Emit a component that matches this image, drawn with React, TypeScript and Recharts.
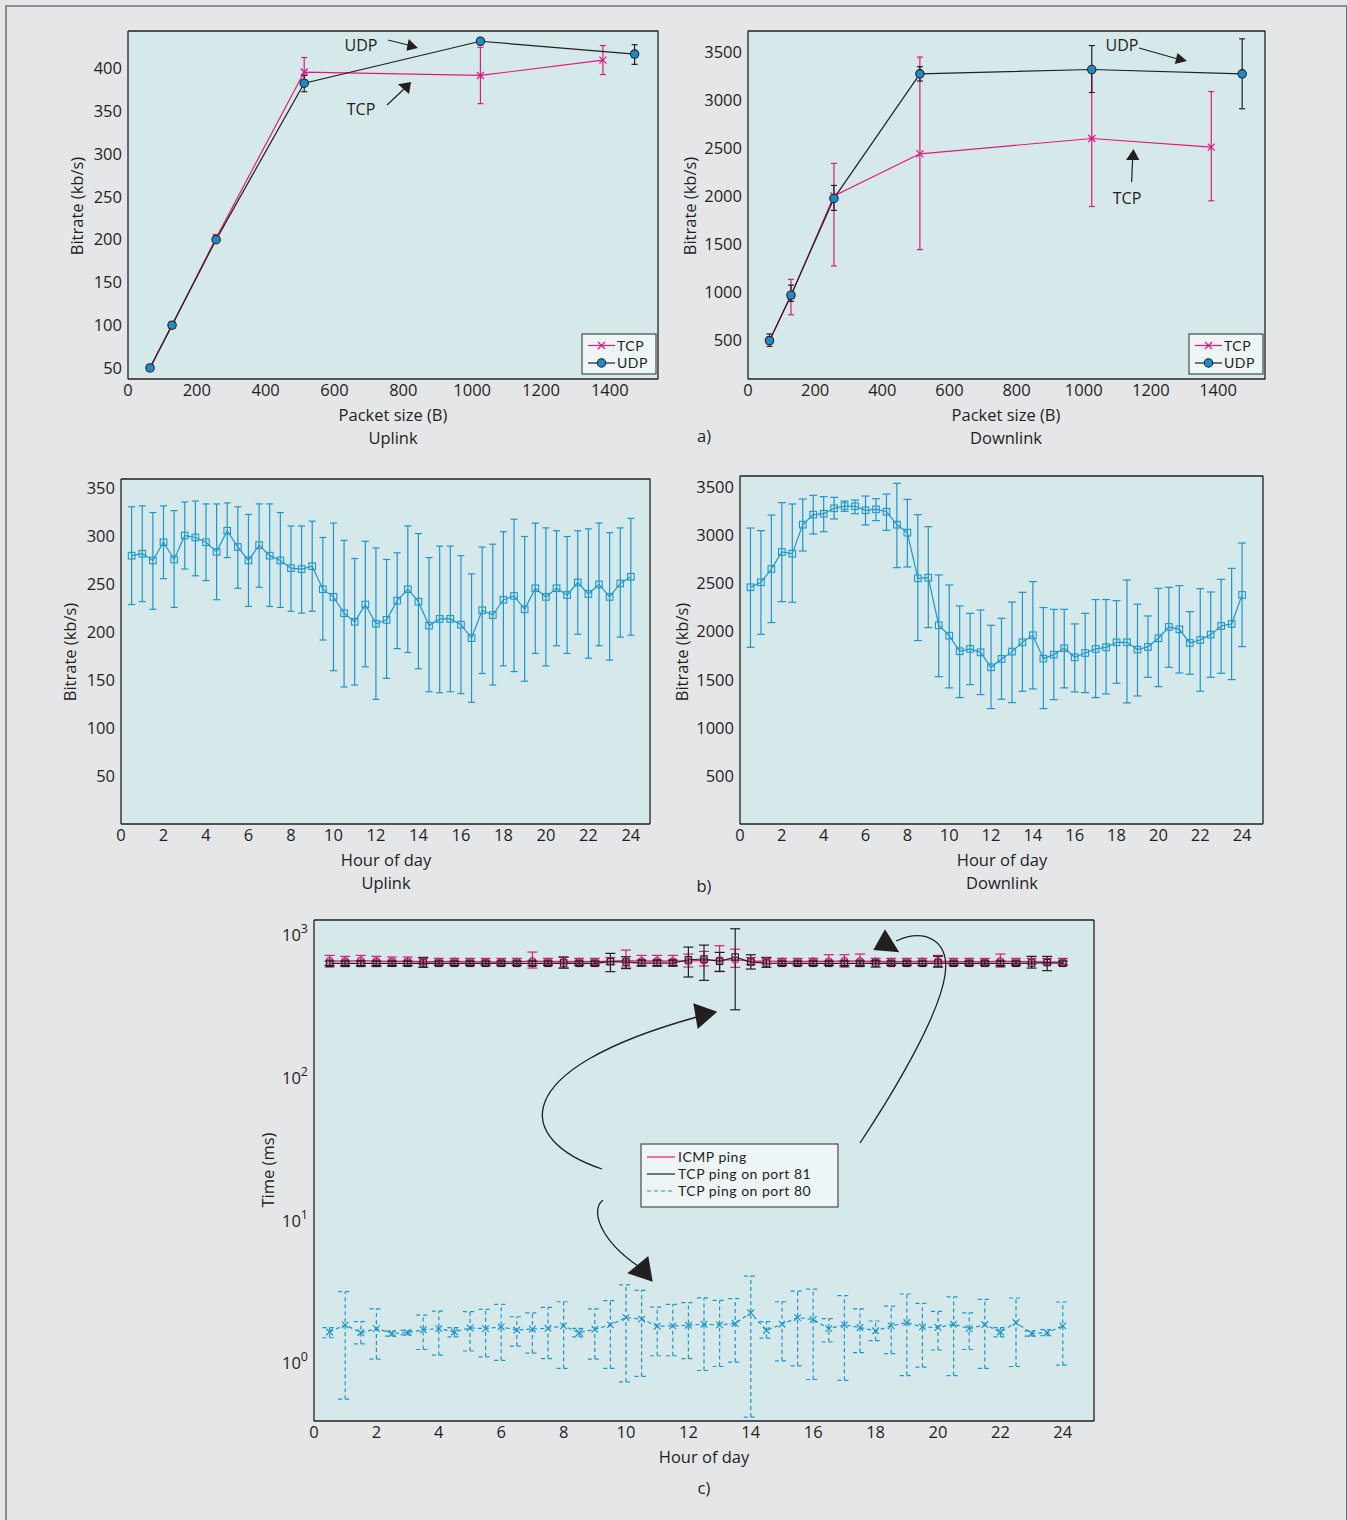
import React from "react";
import { LineChart, Line, XAxis, YAxis, ErrorBar } from "recharts";

const FONT = '"Open Sans", "Noto Sans", sans-serif';
const LEG_FONT = 'Lato, "Open Sans", sans-serif';
const INK = "#231f20";
const PINK = "#e5177b";
const BLUE = "#1b96d4";
const UDP_FILL = "#1a8ccc";
const PLOT_BG = "#d5e9eb";

// a) bitrate vs packet size
const sizesTcp = [64, 128, 256, 512, 1024, 1380];
const sizesUdp = [64, 128, 256, 512, 1024, 1472];
const upTcp = [50, 100, 202, 396, 392, 410];
const upTcpLo = [48, 97, 197, 381, 359, 393];
const upTcpHi = [52, 103, 206, 413, 425, 427];
const upUdp = [50, 100, 200, 383, 432, 417];
const upUdpLo = [49, 99, 198, 373, 428, 405];
const upUdpHi = [51, 101, 202, 392, 436, 428];
const downTcp = [490, 960, 2000, 2440, 2600, 2510];
const downTcpLo = [460, 760, 1270, 1440, 1890, 1950];
const downTcpHi = [530, 1130, 2340, 3450, 3310, 3090];
const downUdp = [490, 965, 1975, 3275, 3320, 3275];
const downUdpLo = [430, 900, 1850, 3200, 3080, 2910];
const downUdpHi = [560, 1070, 2110, 3350, 3570, 3640];

// b) bitrate vs hour of day
const hours = [0.5, 1, 1.5, 2, 2.5, 3, 3.5, 4, 4.5, 5, 5.5, 6, 6.5, 7, 7.5, 8, 8.5, 9, 9.5, 10, 10.5, 11, 11.5, 12, 12.5, 13, 13.5, 14, 14.5, 15, 15.5, 16, 16.5, 17, 17.5, 18, 18.5, 19, 19.5, 20, 20.5, 21, 21.5, 22, 22.5, 23, 23.5, 24];
const upH = [280, 282, 275, 294, 276, 301, 299, 294, 284, 306, 289, 275, 291, 280, 275, 267, 266, 269, 245, 237, 220, 211, 229, 209, 213, 233, 245, 232, 207, 214, 214, 208, 194, 223, 218, 234, 238, 224, 246, 237, 246, 239, 252, 240, 250, 237, 251, 258];
const upHLo = [229, 232, 224, 256, 226, 266, 259, 254, 234, 278, 246, 227, 247, 227, 226, 222, 220, 222, 192, 160, 143, 145, 164, 130, 152, 183, 179, 162, 138, 137, 138, 136, 127, 157, 145, 165, 159, 149, 178, 165, 186, 178, 198, 173, 186, 171, 195, 197];
const upHHi = [331, 332, 325, 332, 327, 336, 337, 334, 334, 335, 331, 323, 334, 334, 325, 311, 311, 316, 299, 314, 296, 277, 295, 288, 276, 283, 311, 303, 278, 290, 290, 280, 261, 289, 292, 305, 318, 300, 314, 309, 306, 300, 306, 308, 314, 304, 309, 319];
const dnH = [2461, 2513, 2651, 2828, 2811, 3112, 3216, 3226, 3282, 3306, 3303, 3261, 3271, 3247, 3112, 3029, 2554, 2561, 2066, 1958, 1796, 1820, 1785, 1629, 1716, 1792, 1889, 1962, 1719, 1761, 1827, 1733, 1778, 1820, 1837, 1889, 1889, 1813, 1841, 1931, 2049, 2024, 1882, 1913, 1969, 2059, 2080, 2381];
const dnHLo = [1837, 1972, 2094, 2312, 2305, 2838, 3015, 3039, 3171, 3251, 3226, 3109, 3154, 3053, 2665, 2672, 1907, 2042, 1532, 1415, 1314, 1449, 1345, 1200, 1297, 1262, 1380, 1404, 1200, 1293, 1415, 1373, 1366, 1314, 1352, 1463, 1259, 1331, 1525, 1428, 1629, 1570, 1557, 1380, 1525, 1567, 1501, 1844];
const dnHHi = [3077, 3050, 3212, 3341, 3327, 3379, 3417, 3403, 3396, 3358, 3368, 3410, 3382, 3431, 3542, 3375, 3216, 3091, 2589, 2485, 2267, 2190, 2225, 2066, 2139, 2308, 2409, 2520, 2250, 2232, 2232, 2080, 2190, 2333, 2333, 2322, 2537, 2285, 2163, 2450, 2461, 2478, 2208, 2447, 2412, 2544, 2658, 2921];

// c) ping time (ms)
const icmp = [662, 660, 665, 660, 658, 660, 655, 655, 658, 655, 652, 652, 655, 660, 655, 658, 655, 655, 660, 665, 660, 662, 660, 660, 668, 670, 675, 660, 660, 658, 655, 660, 658, 662, 660, 658, 655, 655, 658, 660, 655, 655, 652, 660, 655, 655, 652, 650];
const icmpLo = [600, 605, 605, 605, 610, 610, 630, 630, 630, 630, 630, 630, 630, 590, 630, 590, 630, 630, 625, 600, 615, 615, 615, 600, 610, 557, 597, 625, 630, 630, 630, 630, 620, 600, 605, 630, 630, 630, 630, 600, 630, 630, 630, 600, 630, 630, 630, 630];
const icmpHi = [724, 713, 724, 713, 705, 705, 690, 690, 690, 690, 690, 690, 690, 764, 690, 705, 690, 690, 700, 789, 724, 724, 724, 740, 772, 846, 800, 700, 690, 690, 690, 690, 732, 732, 740, 690, 690, 690, 690, 724, 690, 690, 690, 740, 690, 690, 690, 690];
const tcp81 = [637, 637, 637, 637, 637, 637, 640, 637, 637, 637, 637, 637, 637, 637, 637, 640, 637, 637, 654, 650, 640, 640, 640, 675, 683, 658, 705, 650, 640, 637, 637, 637, 637, 637, 637, 640, 637, 637, 637, 640, 637, 637, 637, 637, 637, 640, 645, 637];
const tcp81Lo = [615, 615, 615, 615, 615, 615, 597, 615, 615, 615, 615, 615, 615, 615, 615, 590, 615, 615, 557, 585, 610, 610, 610, 511, 484, 560, 301, 581, 597, 615, 615, 615, 615, 615, 615, 600, 615, 615, 615, 600, 615, 615, 615, 615, 615, 590, 566, 615];
const tcp81Hi = [660, 660, 660, 660, 660, 660, 701, 660, 660, 660, 660, 660, 660, 660, 660, 705, 660, 660, 748, 709, 670, 670, 670, 828, 855, 760, 1113, 732, 701, 660, 660, 660, 660, 660, 660, 665, 660, 660, 660, 713, 660, 660, 660, 660, 660, 713, 713, 660];
const tcp80 = [1.66, 1.86, 1.64, 1.75, 1.62, 1.64, 1.72, 1.75, 1.66, 1.77, 1.75, 1.8, 1.71, 1.74, 1.76, 1.83, 1.64, 1.73, 1.86, 2.09, 2.04, 1.82, 1.83, 1.85, 1.88, 1.86, 1.9, 2.26, 1.7, 1.88, 2.09, 2.03, 1.75, 1.86, 1.78, 1.69, 1.83, 1.93, 1.8, 1.78, 1.88, 1.75, 1.87, 1.66, 1.93, 1.62, 1.64, 1.83];
const tcp80Lo = [1.51, 0.56, 1.37, 1.07, 1.55, 1.58, 1.25, 1.14, 1.53, 1.22, 1.11, 1.05, 1.32, 1.18, 1.08, 0.92, 1.53, 1.07, 0.92, 0.74, 0.81, 1.13, 1.13, 1.08, 0.89, 0.95, 1.02, 0.42, 1.5, 1.04, 0.96, 0.77, 1.41, 0.76, 1.19, 1.44, 1.17, 0.82, 0.94, 1.24, 0.82, 1.25, 0.92, 1.53, 0.95, 1.55, 1.56, 0.97];
const tcp80Hi = [1.78, 3.18, 1.96, 2.41, 1.68, 1.7, 2.18, 2.32, 1.78, 2.3, 2.39, 2.59, 2.12, 2.26, 2.47, 2.7, 1.76, 2.41, 2.75, 3.55, 3.25, 2.48, 2.59, 2.66, 2.88, 2.76, 2.84, 4.09, 1.96, 2.7, 3.21, 3.31, 2.06, 2.98, 2.41, 1.98, 2.52, 3.06, 2.63, 2.31, 2.92, 2.26, 2.81, 1.78, 2.87, 1.69, 1.72, 2.69];

const sizeTicks = [0, 200, 400, 600, 800, 1000, 1200, 1400];
const hourTicks = [0, 2, 4, 6, 8, 10, 12, 14, 16, 18, 20, 22, 24];
const upTicks = [50, 100, 150, 200, 250, 300, 350, 400];
const downTicks = [500, 1000, 1500, 2000, 2500, 3000, 3500];
const upHourTicks = [50, 100, 150, 200, 250, 300, 350];
const logTicks = [1, 10, 100, 1000];

// rows with asymmetric error bars [below, above]
const rows = (xs: number[], ys: number[], lo: number[], hi: number[]) =>
  xs.map((x, i) => ({ x, y: ys[i], err: [ys[i] - lo[i], hi[i] - ys[i]] }));

// markers
const crossDot = (color: string, s: number) => (p: any) =>
  p.cx == null ? <g key={`c${p.index}`} /> : (
    <path key={`c${p.index}`} d={`M${p.cx - s},${p.cy - s}L${p.cx + s},${p.cy + s}M${p.cx - s},${p.cy + s}L${p.cx + s},${p.cy - s}`}
      stroke={color} strokeWidth={1.2} fill="none" />
  );
const circleDot = (fill: string, stroke: string, r: number) => (p: any) =>
  p.cx == null ? <g key={`o${p.index}`} /> : (
    <circle key={`o${p.index}`} cx={p.cx} cy={p.cy} r={r} fill={fill} stroke={stroke} strokeWidth={1.1} />
  );
const squareDot = (color: string, s: number) => (p: any) =>
  p.cx == null ? <g key={`s${p.index}`} /> : (
    <rect key={`s${p.index}`} x={p.cx - s} y={p.cy - s} width={2 * s} height={2 * s} fill="none" stroke={color} strokeWidth={1.1} />
  );

const tickStyle = { fill: INK, fontSize: 16.5, fontFamily: FONT };
const axisLine = { stroke: INK, strokeWidth: 1.3 };

const PowTick = (p: any) => {
  const e = Math.round(Math.log10(p.payload.value));
  return (
    <text x={p.x} y={p.y} dy={6} textAnchor="end" fill={INK} fontSize={16.5} fontFamily={FONT}>
      <tspan>10</tspan>
      <tspan dy={-8} fontSize={12.5}>{e}</tspan>
    </text>
  );
};

// main axes plus mirrored ones for the inward ticks and the box
function frame(xd: number[], xt: number[], yd: number[], yt: number[], log = false) {
  const c = { type: "number" as const, allowDataOverflow: true, interval: 0 as const };
  const ys = log ? "log" : "linear";
  return [
    <XAxis key="x" xAxisId="x" dataKey="x" {...c} domain={xd} ticks={xt} height={40} tickLine={false}
      axisLine={axisLine} tickSize={3} tickMargin={2} tick={tickStyle} />,
    <XAxis key="xb" xAxisId="xb" {...c} domain={xd} ticks={xt} mirror tick={false} axisLine={false}
      tickLine={{ stroke: INK }} tickSize={7} />,
    <XAxis key="xt" xAxisId="xt" orientation="top" {...c} domain={xd} ticks={xt} mirror tick={false}
      axisLine={axisLine} tickLine={{ stroke: INK }} tickSize={7} />,
    <YAxis key="y" yAxisId="y" {...c} scale={ys} domain={yd} ticks={yt} width={70} tickLine={false}
      axisLine={axisLine} tickSize={3} tickMargin={3} tick={log ? <PowTick /> : tickStyle} />,
    <YAxis key="yl" yAxisId="yl" {...c} scale={ys} domain={yd} ticks={yt} mirror tick={false} axisLine={false}
      tickLine={{ stroke: INK }} tickSize={7} />,
    <YAxis key="yr" yAxisId="yr" orientation="right" {...c} scale={ys} domain={yd} ticks={yt} mirror tick={false}
      axisLine={axisLine} tickLine={{ stroke: INK }} tickSize={7} />,
  ];
}

type Box = { x: number; y: number; w: number; h: number };
const P1: Box = { x: 128, y: 31, w: 530, h: 348 };
const P2: Box = { x: 748, y: 31, w: 517, h: 348 };
const P3: Box = { x: 121, y: 479, w: 529, h: 345 };
const P4: Box = { x: 740, y: 476, w: 523, h: 348 };
const P5: Box = { x: 314, y: 920, w: 780, h: 501 };

function Panel({ box, children }: { box: Box; children: React.ReactNode }) {
  return (
    <>
      <div style={{ position: "absolute", left: box.x, top: box.y, width: box.w, height: box.h, background: PLOT_BG }} />
      <div style={{ position: "absolute", left: box.x - 70, top: box.y - 10 }}>
        <LineChart width={box.w + 80} height={box.h + 50} margin={{ top: 10, right: 10, bottom: 0, left: 0 }}>
          {children}
        </LineChart>
      </div>
    </>
  );
}

function Label({ x, y, text, rotate = false, size = 16.5 }: { x: number; y: number; text: string; rotate?: boolean; size?: number }) {
  return (
    <div style={{
      position: "absolute", left: x, top: y, transform: `translate(-50%, -50%)${rotate ? " rotate(-90deg)" : ""}`,
      whiteSpace: "nowrap", fontFamily: FONT, fontSize: size, color: INK, lineHeight: 1,
    }}>{text}</div>
  );
}

const line = (id: string, data: any[], color: string, dot: any, cap: number, dash?: string) => (
  <Line key={id} xAxisId="x" yAxisId="y" data={data} dataKey="y" stroke={color} strokeWidth={1.2}
    strokeDasharray={dash} dot={dot} activeDot={false} isAnimationActive={false}>
    <ErrorBar dataKey="err" width={cap} stroke={color} strokeWidth={1.2} strokeDasharray={dash} direction="y" isAnimationActive={false} />
  </Line>
);

function Arrow({ tip, b1, b2 }: { tip: number[]; b1: number[]; b2: number[] }) {
  return <polygon points={`${tip[0]},${tip[1]} ${b1[0]},${b1[1]} ${b2[0]},${b2[1]}`} fill={INK} />;
}

const legText = { fontFamily: LEG_FONT, fontSize: 14, letterSpacing: 0.5, fill: INK };

function LegendAB({ x, y }: { x: number; y: number }) {
  return (
    <g>
      <rect x={x} y={y} width={74} height={40} fill="#edf5f6" stroke="#4a4a4a" strokeWidth={1.2} />
      <line x1={x + 6} y1={y + 11.5} x2={x + 33} y2={y + 11.5} stroke={PINK} strokeWidth={1.2} />
      <path d={`M${x + 16},${y + 8}L${x + 23},${y + 15}M${x + 16},${y + 15}L${x + 23},${y + 8}`} stroke={PINK} strokeWidth={1.2} />
      <text x={x + 35} y={y + 11.5} dy={5} {...legText}>TCP</text>
      <line x1={x + 6} y1={y + 29} x2={x + 33} y2={y + 29} stroke={INK} strokeWidth={1.2} />
      <circle cx={x + 19.5} cy={y + 29} r={4.2} fill={UDP_FILL} stroke={INK} strokeWidth={1.1} />
      <text x={x + 35} y={y + 29} dy={5} {...legText}>UDP</text>
    </g>
  );
}

export default function App() {
  const t = { fontFamily: FONT, fontSize: 16, fill: INK };
  return (
    <div style={{ position: "relative", width: 1347, height: 1520, background: "#e5e6e8", overflow: "hidden" }}>
      <style>{"body{margin:0}"}</style>
      <div style={{ position: "absolute", left: 5, top: 5, width: 1339, height: 1530, borderLeft: "2px solid #8d8c90", borderTop: "2px solid #8d8c90", borderRight: "2px solid #6d6c70" }} />

      <Panel box={P1}>
        {frame([0, 1540], sizeTicks, [37, 444], upTicks)}
        {line("t", rows(sizesTcp, upTcp, upTcpLo, upTcpHi), PINK, crossDot(PINK, 3.5), 3)}
        {line("u", rows(sizesUdp, upUdp, upUdpLo, upUdpHi), INK, circleDot(UDP_FILL, INK, 4.2), 3)}
      </Panel>
      <Panel box={P2}>
        {frame([0, 1540], sizeTicks, [90, 3722], downTicks)}
        {line("t", rows(sizesTcp, downTcp, downTcpLo, downTcpHi), PINK, crossDot(PINK, 3.5), 3)}
        {line("u", rows(sizesUdp, downUdp, downUdpLo, downUdpHi), INK, circleDot(UDP_FILL, INK, 4.2), 3)}
      </Panel>
      <Panel box={P3}>
        {frame([0, 24.9], hourTicks, [0, 360], upHourTicks)}
        {line("h", rows(hours, upH, upHLo, upHHi), BLUE, squareDot(BLUE, 3.3), 3.5)}
      </Panel>
      <Panel box={P4}>
        {frame([0, 25], hourTicks, [0, 3618], downTicks)}
        {line("h", rows(hours, dnH, dnHLo, dnHHi), BLUE, squareDot(BLUE, 3.3), 4)}
      </Panel>
      <Panel box={P5}>
        {frame([0, 25], hourTicks, [0.394, 1282], logTicks, true)}
        {line("i", rows(hours, icmp, icmpLo, icmpHi), PINK, circleDot("none", PINK, 3.3), 5)}
        {line("k", rows(hours, tcp81, tcp81Lo, tcp81Hi), INK, squareDot(INK, 3.2), 5)}
        {line("p", rows(hours, tcp80, tcp80Lo, tcp80Hi), BLUE, crossDot(BLUE, 3.3), 7, "4 3")}
      </Panel>

      <Label x={77} y={206} text="Bitrate (kb/s)" rotate />
      <Label x={393} y={415} text="Packet size (B)" />
      <Label x={393} y={438} text="Uplink" />
      <Label x={690} y={206} text="Bitrate (kb/s)" rotate />
      <Label x={1006} y={415} text="Packet size (B)" />
      <Label x={1006} y={438} text="Downlink" />
      <Label x={704} y={436} text="a)" />

      <Label x={70} y={652} text="Bitrate (kb/s)" rotate />
      <Label x={386} y={860} text="Hour of day" />
      <Label x={386} y={883} text="Uplink" />
      <Label x={682} y={652} text="Bitrate (kb/s)" rotate />
      <Label x={1002} y={860} text="Hour of day" />
      <Label x={1002} y={883} text="Downlink" />
      <Label x={704} y={886} text="b)" />

      <Label x={268} y={1170} text="Time (ms)" rotate />
      <Label x={704} y={1457} text="Hour of day" />
      <Label x={704} y={1488} text="c)" />

      <svg width={1347} height={1520} style={{ position: "absolute", left: 0, top: 0, pointerEvents: "none" }}>
        {/* a) uplink annotations */}
        <text x={361} y={45} dy={6} textAnchor="middle" {...t}>UDP</text>
        <line x1={388} y1={40} x2={408} y2={45} stroke={INK} strokeWidth={1.2} />
        <Arrow tip={[418, 48]} b1={[408.7, 39]} b2={[406.4, 50.7]} />
        <text x={361} y={109} dy={6} textAnchor="middle" {...t}>TCP</text>
        <line x1={387} y1={105} x2={404} y2={89} stroke={INK} strokeWidth={1.2} />
        <Arrow tip={[411, 82]} b1={[398, 84.3]} b2={[409, 94]} />
        <LegendAB x={582} y={334} />

        {/* a) downlink annotations */}
        <text x={1122} y={45} dy={6} textAnchor="middle" {...t}>UDP</text>
        <line x1={1139} y1={48} x2={1176} y2={58.5} stroke={INK} strokeWidth={1.2} />
        <Arrow tip={[1187, 61]} b1={[1177.5, 53]} b2={[1174.8, 64]} />
        <text x={1127} y={198} dy={6} textAnchor="middle" {...t}>TCP</text>
        <line x1={1131.6} y1={182} x2={1132.6} y2={159} stroke={INK} strokeWidth={1.2} />
        <Arrow tip={[1133.5, 149]} b1={[1126, 160]} b2={[1139.3, 160]} />
        <LegendAB x={1189} y={334} />

        {/* c) annotations */}
        <path d="M602,1169 C515,1140 505,1070 697,1017" fill="none" stroke={INK} strokeWidth={1.3} />
        <Arrow tip={[717.3, 1011.7]} b1={[693.3, 1003.3]} b2={[697.7, 1029]} />
        <path d="M603,1200 C590,1210 600,1240 638,1266" fill="none" stroke={INK} strokeWidth={1.3} />
        <Arrow tip={[652.7, 1281.7]} b1={[627.3, 1273.3]} b2={[648.3, 1256]} />
        <path d="M860,1143 C905,1075 940,1010 945,975 C950,940 925,928 896,941" fill="none" stroke={INK} strokeWidth={1.3} />
        <Arrow tip={[885, 929.3]} b1={[873.3, 950]} b2={[899.3, 952.3]} />

        <rect x={641} y={1144} width={197} height={63} fill="#edf5f6" stroke="#4a4a4a" strokeWidth={1.2} />
        <line x1={647} y1={1157} x2={675} y2={1157} stroke={PINK} strokeWidth={1.2} />
        <text x={678} y={1157} dy={5} {...legText}>ICMP ping</text>
        <line x1={647} y1={1174} x2={675} y2={1174} stroke={INK} strokeWidth={1.2} />
        <text x={678} y={1174} dy={5} {...legText}>TCP ping on port 81</text>
        <line x1={647} y1={1191} x2={675} y2={1191} stroke={BLUE} strokeWidth={1.2} strokeDasharray="4 3" />
        <text x={678} y={1191} dy={5} {...legText}>TCP ping on port 80</text>
      </svg>
    </div>
  );
}
